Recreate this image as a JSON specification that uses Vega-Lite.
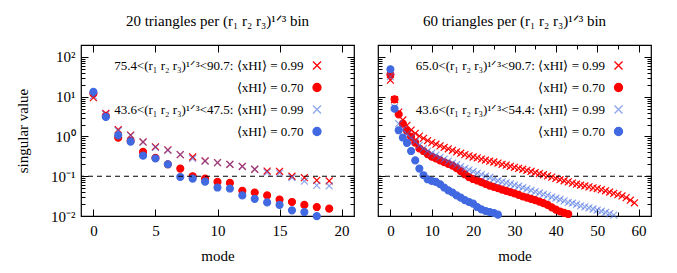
{
  "$schema": "https://vega.github.io/schema/vega-lite/v6.json",
  "background": "white",
  "padding": {"left": 14, "top": 12, "right": 5, "bottom": 5},
  "spacing": 24,
  "bounds": "flush",
  "datasets": {
    "left": [
      {"series":"L1","mode":0,"value":9.5},{"series":"L1","mode":1,"value":3.8},{"series":"L1","mode":2,"value":1.48},{"series":"L1","mode":3,"value":1.08},{"series":"L1","mode":4,"value":0.73},{"series":"L1","mode":5,"value":0.55},{"series":"L1","mode":6,"value":0.46},{"series":"L1","mode":7,"value":0.35},{"series":"L1","mode":8,"value":0.305},{"series":"L1","mode":9,"value":0.242},{"series":"L1","mode":10,"value":0.22},{"series":"L1","mode":11,"value":0.2},{"series":"L1","mode":12,"value":0.178},{"series":"L1","mode":13,"value":0.15},{"series":"L1","mode":14,"value":0.135},{"series":"L1","mode":15,"value":0.133},{"series":"L1","mode":16,"value":0.1},{"series":"L1","mode":17,"value":0.092},{"series":"L1","mode":18,"value":0.079},{"series":"L1","mode":19,"value":0.076},
      {"series":"L2","mode":0,"value":12},{"series":"L2","mode":1,"value":3.3},{"series":"L2","mode":2,"value":0.93},{"series":"L2","mode":3,"value":0.78},{"series":"L2","mode":4,"value":0.41},{"series":"L2","mode":5,"value":0.29},{"series":"L2","mode":6,"value":0.2},{"series":"L2","mode":7,"value":0.156},{"series":"L2","mode":8,"value":0.1},{"series":"L2","mode":9,"value":0.087},{"series":"L2","mode":10,"value":0.072},{"series":"L2","mode":11,"value":0.068},{"series":"L2","mode":12,"value":0.043},{"series":"L2","mode":13,"value":0.039},{"series":"L2","mode":14,"value":0.033},{"series":"L2","mode":15,"value":0.026},{"series":"L2","mode":16,"value":0.0225},{"series":"L2","mode":17,"value":0.019},{"series":"L2","mode":18,"value":0.0168},{"series":"L2","mode":19,"value":0.0153},
      {"series":"L3","mode":0,"value":10.5},{"series":"L3","mode":1,"value":3.6},{"series":"L3","mode":2,"value":1.4},{"series":"L3","mode":3,"value":1.05},{"series":"L3","mode":4,"value":0.72},{"series":"L3","mode":5,"value":0.53},{"series":"L3","mode":6,"value":0.45},{"series":"L3","mode":7,"value":0.35},{"series":"L3","mode":8,"value":0.28},{"series":"L3","mode":9,"value":0.24},{"series":"L3","mode":10,"value":0.22},{"series":"L3","mode":11,"value":0.2},{"series":"L3","mode":12,"value":0.175},{"series":"L3","mode":13,"value":0.148},{"series":"L3","mode":14,"value":0.125},{"series":"L3","mode":15,"value":0.12},{"series":"L3","mode":16,"value":0.093},{"series":"L3","mode":17,"value":0.075},{"series":"L3","mode":18,"value":0.059},{"series":"L3","mode":19,"value":0.057},
      {"series":"L4","mode":0,"value":13.2},{"series":"L4","mode":1,"value":3.1},{"series":"L4","mode":2,"value":1.07},{"series":"L4","mode":3,"value":0.74},{"series":"L4","mode":4,"value":0.33},{"series":"L4","mode":5,"value":0.28},{"series":"L4","mode":6,"value":0.2},{"series":"L4","mode":7,"value":0.096},{"series":"L4","mode":8,"value":0.087},{"series":"L4","mode":9,"value":0.073},{"series":"L4","mode":10,"value":0.052},{"series":"L4","mode":11,"value":0.049},{"series":"L4","mode":12,"value":0.033},{"series":"L4","mode":13,"value":0.027},{"series":"L4","mode":14,"value":0.022},{"series":"L4","mode":15,"value":0.019},{"series":"L4","mode":16,"value":0.0139},{"series":"L4","mode":17,"value":0.0126},{"series":"L4","mode":18,"value":0.0099}
    ],
    "right": [
      {"series":"R1","mode":0,"value":26},{"series":"R1","mode":1,"value":8.5},{"series":"R1","mode":2,"value":4.1},{"series":"R1","mode":3,"value":2.6},{"series":"R1","mode":4,"value":1.9},{"series":"R1","mode":5,"value":1.45},{"series":"R1","mode":6,"value":1.2},{"series":"R1","mode":7,"value":1.02},{"series":"R1","mode":8,"value":0.9},{"series":"R1","mode":9,"value":0.79},
      {"series":"R1","mode":10,"value":0.7},{"series":"R1","mode":11,"value":0.64},{"series":"R1","mode":12,"value":0.58},{"series":"R1","mode":13,"value":0.53},{"series":"R1","mode":14,"value":0.49},{"series":"R1","mode":15,"value":0.45},{"series":"R1","mode":16,"value":0.41},{"series":"R1","mode":17,"value":0.38},{"series":"R1","mode":18,"value":0.35},{"series":"R1","mode":19,"value":0.325},
      {"series":"R1","mode":20,"value":0.305},{"series":"R1","mode":21,"value":0.29},{"series":"R1","mode":22,"value":0.27},{"series":"R1","mode":23,"value":0.255},{"series":"R1","mode":24,"value":0.24},{"series":"R1","mode":25,"value":0.228},{"series":"R1","mode":26,"value":0.215},{"series":"R1","mode":27,"value":0.2},{"series":"R1","mode":28,"value":0.19},{"series":"R1","mode":29,"value":0.178},
      {"series":"R1","mode":30,"value":0.168},{"series":"R1","mode":31,"value":0.158},{"series":"R1","mode":32,"value":0.15},{"series":"R1","mode":33,"value":0.141},{"series":"R1","mode":34,"value":0.132},{"series":"R1","mode":35,"value":0.124},{"series":"R1","mode":36,"value":0.117},{"series":"R1","mode":37,"value":0.109},{"series":"R1","mode":38,"value":0.102},{"series":"R1","mode":39,"value":0.095},
      {"series":"R1","mode":40,"value":0.088},{"series":"R1","mode":41,"value":0.082},{"series":"R1","mode":42,"value":0.077},{"series":"R1","mode":43,"value":0.072},{"series":"R1","mode":44,"value":0.067},{"series":"R1","mode":45,"value":0.063},{"series":"R1","mode":46,"value":0.06},{"series":"R1","mode":47,"value":0.057},{"series":"R1","mode":48,"value":0.054},{"series":"R1","mode":49,"value":0.051},
      {"series":"R1","mode":50,"value":0.049},{"series":"R1","mode":51,"value":0.046},{"series":"R1","mode":52,"value":0.043},{"series":"R1","mode":53,"value":0.04},{"series":"R1","mode":54,"value":0.037},{"series":"R1","mode":55,"value":0.0345},{"series":"R1","mode":56,"value":0.032},{"series":"R1","mode":57,"value":0.029},{"series":"R1","mode":58,"value":0.025},{"series":"R1","mode":59,"value":0.0215},
      {"series":"R2","mode":0,"value":36},{"series":"R2","mode":1,"value":8.6},{"series":"R2","mode":2,"value":3.6},{"series":"R2","mode":3,"value":2.1},{"series":"R2","mode":4,"value":1.4},{"series":"R2","mode":5,"value":0.98},{"series":"R2","mode":6,"value":0.7},{"series":"R2","mode":7,"value":0.5},{"series":"R2","mode":8,"value":0.43},{"series":"R2","mode":9,"value":0.36},
      {"series":"R2","mode":10,"value":0.31},{"series":"R2","mode":11,"value":0.28},{"series":"R2","mode":12,"value":0.25},{"series":"R2","mode":13,"value":0.225},{"series":"R2","mode":14,"value":0.205},{"series":"R2","mode":15,"value":0.185},{"series":"R2","mode":16,"value":0.16},{"series":"R2","mode":17,"value":0.135},{"series":"R2","mode":18,"value":0.112},{"series":"R2","mode":19,"value":0.095},
      {"series":"R2","mode":20,"value":0.085},{"series":"R2","mode":21,"value":0.078},{"series":"R2","mode":22,"value":0.071},{"series":"R2","mode":23,"value":0.064},{"series":"R2","mode":24,"value":0.058},{"series":"R2","mode":25,"value":0.054},{"series":"R2","mode":26,"value":0.05},{"series":"R2","mode":27,"value":0.046},{"series":"R2","mode":28,"value":0.043},{"series":"R2","mode":29,"value":0.04},
      {"series":"R2","mode":30,"value":0.037},{"series":"R2","mode":31,"value":0.034},{"series":"R2","mode":32,"value":0.031},{"series":"R2","mode":33,"value":0.029},{"series":"R2","mode":34,"value":0.027},{"series":"R2","mode":35,"value":0.025},{"series":"R2","mode":36,"value":0.023},{"series":"R2","mode":37,"value":0.021},{"series":"R2","mode":38,"value":0.019},{"series":"R2","mode":39,"value":0.0165},
      {"series":"R2","mode":40,"value":0.0145},{"series":"R2","mode":41,"value":0.013},{"series":"R2","mode":42,"value":0.012},{"series":"R2","mode":43,"value":0.0112},
      {"series":"R3","mode":0,"value":32},{"series":"R3","mode":1,"value":5.5},{"series":"R3","mode":2,"value":2.1},{"series":"R3","mode":3,"value":1.5},{"series":"R3","mode":4,"value":1.15},{"series":"R3","mode":5,"value":0.92},{"series":"R3","mode":6,"value":0.74},{"series":"R3","mode":7,"value":0.6},{"series":"R3","mode":8,"value":0.5},{"series":"R3","mode":9,"value":0.43},
      {"series":"R3","mode":10,"value":0.38},{"series":"R3","mode":11,"value":0.34},{"series":"R3","mode":12,"value":0.3},{"series":"R3","mode":13,"value":0.27},{"series":"R3","mode":14,"value":0.24},{"series":"R3","mode":15,"value":0.215},{"series":"R3","mode":16,"value":0.195},{"series":"R3","mode":17,"value":0.175},{"series":"R3","mode":18,"value":0.158},{"series":"R3","mode":19,"value":0.145},
      {"series":"R3","mode":20,"value":0.132},{"series":"R3","mode":21,"value":0.12},{"series":"R3","mode":22,"value":0.11},{"series":"R3","mode":23,"value":0.1},{"series":"R3","mode":24,"value":0.093},{"series":"R3","mode":25,"value":0.085},{"series":"R3","mode":26,"value":0.077},{"series":"R3","mode":27,"value":0.072},{"series":"R3","mode":28,"value":0.068},{"series":"R3","mode":29,"value":0.064},
      {"series":"R3","mode":30,"value":0.06},{"series":"R3","mode":31,"value":0.056},{"series":"R3","mode":32,"value":0.052},{"series":"R3","mode":33,"value":0.048},{"series":"R3","mode":34,"value":0.044},{"series":"R3","mode":35,"value":0.041},{"series":"R3","mode":36,"value":0.038},{"series":"R3","mode":37,"value":0.035},{"series":"R3","mode":38,"value":0.033},{"series":"R3","mode":39,"value":0.03},
      {"series":"R3","mode":40,"value":0.028},{"series":"R3","mode":41,"value":0.026},{"series":"R3","mode":42,"value":0.024},{"series":"R3","mode":43,"value":0.022},{"series":"R3","mode":44,"value":0.021},{"series":"R3","mode":45,"value":0.0195},{"series":"R3","mode":46,"value":0.018},{"series":"R3","mode":47,"value":0.017},{"series":"R3","mode":48,"value":0.016},{"series":"R3","mode":49,"value":0.015},
      {"series":"R3","mode":50,"value":0.0141},{"series":"R3","mode":51,"value":0.0132},{"series":"R3","mode":52,"value":0.0123},{"series":"R3","mode":53,"value":0.0114},{"series":"R3","mode":54,"value":0.0105},
      {"series":"R4","mode":0,"value":49},{"series":"R4","mode":1,"value":5.0},{"series":"R4","mode":2,"value":1.43},{"series":"R4","mode":3,"value":0.94},{"series":"R4","mode":4,"value":0.69},{"series":"R4","mode":5,"value":0.43},{"series":"R4","mode":6,"value":0.25},{"series":"R4","mode":7,"value":0.156},{"series":"R4","mode":8,"value":0.106},{"series":"R4","mode":9,"value":0.084},
      {"series":"R4","mode":10,"value":0.076},{"series":"R4","mode":11,"value":0.072},{"series":"R4","mode":12,"value":0.063},{"series":"R4","mode":13,"value":0.052},{"series":"R4","mode":14,"value":0.044},{"series":"R4","mode":15,"value":0.039},{"series":"R4","mode":16,"value":0.033},{"series":"R4","mode":17,"value":0.029},{"series":"R4","mode":18,"value":0.025},{"series":"R4","mode":19,"value":0.0225},
      {"series":"R4","mode":20,"value":0.0205},{"series":"R4","mode":21,"value":0.0168},{"series":"R4","mode":22,"value":0.0147},{"series":"R4","mode":23,"value":0.0134},{"series":"R4","mode":24,"value":0.0126},{"series":"R4","mode":25,"value":0.0119},{"series":"R4","mode":26,"value":0.0108}
    ]
  },
  "hconcat": [
    {
      "width": 273,
      "height": 171,
      "data": {"name": "left"},
      "title": {"text": "20 triangles per (r₁ r₂ r₃)¹ᐟ³ bin"},
      "layer": [
        {
          "mark": {"type": "point", "size": 48, "strokeWidth": 1.2, "opacity": 1},
          "encoding": {
            "x": {"field": "mode", "type": "quantitative", "scale": {"domain": [-1, 21], "nice": false, "zero": false},
                  "axis": {"orient": "bottom", "values": [0, 5, 10, 15, 20], "title": "mode", "tickSize": -7, "labelPadding": 14, "titlePadding": 10}},
            "y": {"field": "value", "type": "quantitative", "scale": {"type": "log", "domain": [0.01, 200], "nice": false},
                  "axis": {"orient": "left", "title": "singular value", "titlePadding": 20, "labelPadding": 13,
                           "values": [0.01,0.02,0.03,0.04,0.05,0.06,0.07,0.08,0.09,0.1,0.2,0.3,0.4,0.5,0.6,0.7,0.8,0.9,1,2,3,4,5,6,7,8,9,10,20,30,40,50,60,70,80,90,100,200],
                           "labelExpr": "abs(log(datum.value)/LN10 - round(log(datum.value)/LN10)) > 0.001 ? '' : round(log(datum.value)/LN10) == 2 ? '10²' : round(log(datum.value)/LN10) == 1 ? '10¹' : round(log(datum.value)/LN10) == 0 ? '10⁰' : round(log(datum.value)/LN10) == -1 ? '10⁻¹' : '10⁻²'",
                           "tickSize": {"condition": {"test": "abs(log(datum.value)/LN10 - round(log(datum.value)/LN10)) < 0.001", "value": -7}, "value": -4}}},
            "shape": {"field": "series", "type": "nominal", "scale": {"domain": ["L1","L2","L3","L4"], "range": ["M-1,-1L1,1M-1,1L1,-1", "circle", "M-1,-1L1,1M-1,1L1,-1", "circle"]},
                      "legend": {"orient": "none", "legendX": 229.5, "legendY": 14, "title": null,
                                 "labelExpr": "datum.value == 'L1' ? '75.4<(r₁ r₂ r₃)¹ᐟ³<90.7: ⟨xHI⟩ = 0.99' : datum.value == 'L3' ? '43.6<(r₁ r₂ r₃)¹ᐟ³<47.5: ⟨xHI⟩ = 0.99' : '⟨xHI⟩ = 0.70'"}},
            "fill": {"field": "series", "type": "nominal", "scale": {"domain": ["L1","L2","L3","L4"], "range": ["transparent", "#ff0000", "transparent", "#4169e1"]},
                      "legend": {"orient": "none", "legendX": 229.5, "legendY": 14, "title": null,
                                 "labelExpr": "datum.value == 'L1' ? '75.4<(r₁ r₂ r₃)¹ᐟ³<90.7: ⟨xHI⟩ = 0.99' : datum.value == 'L3' ? '43.6<(r₁ r₂ r₃)¹ᐟ³<47.5: ⟨xHI⟩ = 0.99' : '⟨xHI⟩ = 0.70'"}},
            "stroke": {"field": "series", "type": "nominal", "scale": {"domain": ["L1","L2","L3","L4"], "range": ["#ff0000", "#ff0000", "rgba(65,105,225,0.6)", "#4169e1"]},
                      "legend": {"orient": "none", "legendX": 229.5, "legendY": 14, "title": null,
                                 "labelExpr": "datum.value == 'L1' ? '75.4<(r₁ r₂ r₃)¹ᐟ³<90.7: ⟨xHI⟩ = 0.99' : datum.value == 'L3' ? '43.6<(r₁ r₂ r₃)¹ᐟ³<47.5: ⟨xHI⟩ = 0.99' : '⟨xHI⟩ = 0.70'"}}
          }
        },
        {
          "mark": {"type": "point", "opacity": 0},
          "encoding": {
            "x": {"field": "mode", "type": "quantitative", "scale": {"domain": [-1, 21], "nice": false, "zero": false},
                  "axis": {"orient": "top", "values": [0, 5, 10, 15, 20], "labels": false, "title": null, "tickSize": -7}},
            "y": {"field": "value", "type": "quantitative", "scale": {"type": "log", "domain": [0.01, 200], "nice": false},
                  "axis": {"orient": "right", "labels": false, "title": null,
                           "values": [0.01,0.02,0.03,0.04,0.05,0.06,0.07,0.08,0.09,0.1,0.2,0.3,0.4,0.5,0.6,0.7,0.8,0.9,1,2,3,4,5,6,7,8,9,10,20,30,40,50,60,70,80,90,100,200],
                           "tickSize": {"condition": {"test": "abs(log(datum.value)/LN10 - round(log(datum.value)/LN10)) < 0.001", "value": -7}, "value": -4}}}
          }
        },
        {
          "data": {"values": [{}]},
          "mark": {"type": "rule", "strokeDash": [5, 4], "color": "black", "strokeWidth": 1.2},
          "encoding": {"y": {"datum": 0.1, "type": "quantitative", "axis": null}}
        }
      ],
      "resolve": {"axis": {"x": "independent", "y": "independent"}}
    },
    {
      "width": 273,
      "height": 171,
      "data": {"name": "right"},
      "title": {"text": "60 triangles per (r₁ r₂ r₃)¹ᐟ³ bin"},
      "layer": [
        {
          "mark": {"type": "point", "size": 48, "strokeWidth": 1.2, "opacity": 1},
          "encoding": {
            "x": {"field": "mode", "type": "quantitative", "scale": {"domain": [-3, 63], "nice": false, "zero": false},
                  "axis": {"orient": "bottom", "values": [0,5,10,15,20,25,30,35,40,45,50,55,60], "title": "mode", "labelPadding": 14, "titlePadding": 10,
                           "labelExpr": "datum.value % 10 == 0 ? datum.label : ''",
                           "tickSize": {"condition": {"test": "datum.value % 10 == 0", "value": -7}, "value": -4}}},
            "y": {"field": "value", "type": "quantitative", "scale": {"type": "log", "domain": [0.01, 200], "nice": false},
                  "axis": {"orient": "left", "title": null, "labels": false,
                           "values": [0.01,0.02,0.03,0.04,0.05,0.06,0.07,0.08,0.09,0.1,0.2,0.3,0.4,0.5,0.6,0.7,0.8,0.9,1,2,3,4,5,6,7,8,9,10,20,30,40,50,60,70,80,90,100,200],
                           "tickSize": {"condition": {"test": "abs(log(datum.value)/LN10 - round(log(datum.value)/LN10)) < 0.001", "value": -7}, "value": -4}}},
            "shape": {"field": "series", "type": "nominal", "scale": {"domain": ["R1","R2","R3","R4"], "range": ["M-1,-1L1,1M-1,1L1,-1", "circle", "M-1,-1L1,1M-1,1L1,-1", "circle"]},
                      "legend": {"orient": "none", "legendX": 234, "legendY": 14, "title": null,
                                 "labelExpr": "datum.value == 'R1' ? '65.0<(r₁ r₂ r₃)¹ᐟ³<90.7: ⟨xHI⟩ = 0.99' : datum.value == 'R3' ? '43.6<(r₁ r₂ r₃)¹ᐟ³<54.4: ⟨xHI⟩ = 0.99' : '⟨xHI⟩ = 0.70'"}},
            "fill": {"field": "series", "type": "nominal", "scale": {"domain": ["R1","R2","R3","R4"], "range": ["transparent", "#ff0000", "transparent", "#4169e1"]},
                      "legend": {"orient": "none", "legendX": 234, "legendY": 14, "title": null,
                                 "labelExpr": "datum.value == 'R1' ? '65.0<(r₁ r₂ r₃)¹ᐟ³<90.7: ⟨xHI⟩ = 0.99' : datum.value == 'R3' ? '43.6<(r₁ r₂ r₃)¹ᐟ³<54.4: ⟨xHI⟩ = 0.99' : '⟨xHI⟩ = 0.70'"}},
            "stroke": {"field": "series", "type": "nominal", "scale": {"domain": ["R1","R2","R3","R4"], "range": ["#ff0000", "#ff0000", "rgba(65,105,225,0.6)", "#4169e1"]},
                      "legend": {"orient": "none", "legendX": 234, "legendY": 14, "title": null,
                                 "labelExpr": "datum.value == 'R1' ? '65.0<(r₁ r₂ r₃)¹ᐟ³<90.7: ⟨xHI⟩ = 0.99' : datum.value == 'R3' ? '43.6<(r₁ r₂ r₃)¹ᐟ³<54.4: ⟨xHI⟩ = 0.99' : '⟨xHI⟩ = 0.70'"}}
          }
        },
        {
          "mark": {"type": "point", "opacity": 0},
          "encoding": {
            "x": {"field": "mode", "type": "quantitative", "scale": {"domain": [-3, 63], "nice": false, "zero": false},
                  "axis": {"orient": "top", "values": [0,5,10,15,20,25,30,35,40,45,50,55,60], "labels": false, "title": null,
                           "tickSize": {"condition": {"test": "datum.value % 10 == 0", "value": -7}, "value": -4}}},
            "y": {"field": "value", "type": "quantitative", "scale": {"type": "log", "domain": [0.01, 200], "nice": false},
                  "axis": {"orient": "right", "labels": false, "title": null,
                           "values": [0.01,0.02,0.03,0.04,0.05,0.06,0.07,0.08,0.09,0.1,0.2,0.3,0.4,0.5,0.6,0.7,0.8,0.9,1,2,3,4,5,6,7,8,9,10,20,30,40,50,60,70,80,90,100,200],
                           "tickSize": {"condition": {"test": "abs(log(datum.value)/LN10 - round(log(datum.value)/LN10)) < 0.001", "value": -7}, "value": -4}}}
          }
        },
        {
          "data": {"values": [{}]},
          "mark": {"type": "rule", "strokeDash": [5, 4], "color": "black", "strokeWidth": 1.2},
          "encoding": {"y": {"datum": 0.1, "type": "quantitative", "axis": null}}
        }
      ],
      "resolve": {"axis": {"x": "independent", "y": "independent"}}
    }
  ],
  "resolve": {
    "scale": {"x": "independent", "y": "independent", "shape": "independent", "fill": "independent", "stroke": "independent"},
    "legend": {"shape": "independent", "fill": "independent", "stroke": "independent"}
  },
  "config": {
    "font": "Liberation Serif",
    "view": {"stroke": "#000000", "strokeWidth": 1.2},
    "axis": {"domain": false, "grid": false, "labelFont": "Liberation Serif", "labelFontSize": 15, "labelColor": "#000000",
             "titleFont": "Liberation Serif", "titleFontSize": 15, "titleFontWeight": "normal", "titleColor": "#000000",
             "tickColor": "#000000", "tickWidth": 1},
    "title": {"font": "Liberation Serif", "fontSize": 15, "fontWeight": "normal", "color": "#000000", "baseline": "alphabetic", "offset": 16},
    "legend": {"labelAlign": "right", "labelOffset": -20, "symbolSize": 64, "symbolStrokeWidth": 1.3, "labelFontSize": 13,
               "labelFont": "Liberation Serif", "labelColor": "#000000", "rowPadding": 7, "padding": 0, "labelLimit": 500}
  }
}
